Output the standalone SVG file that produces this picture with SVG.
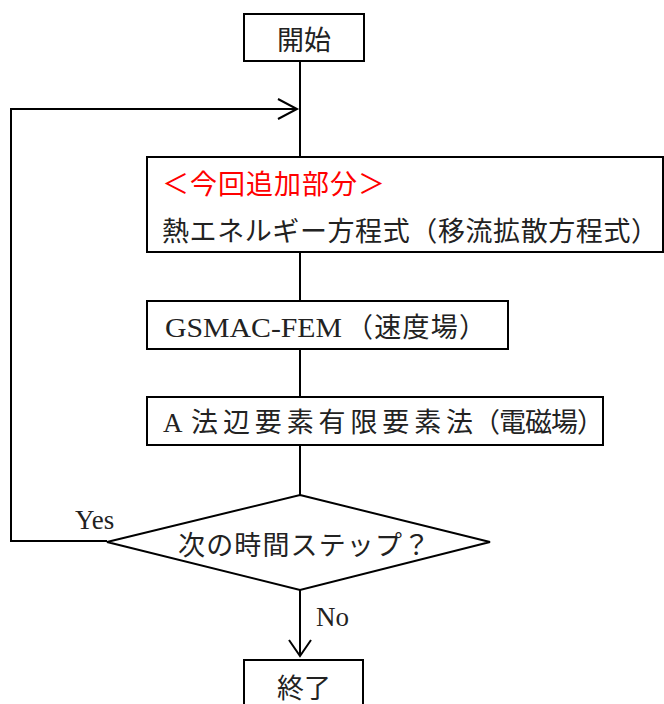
<svg xmlns="http://www.w3.org/2000/svg" width="664" height="704" viewBox="0 0 664 704">
<style>
.box{fill:#fff;stroke:#000;stroke-width:2}
.ln{fill:none;stroke:#000;stroke-width:2}
text{font-family:"Liberation Serif","Noto Sans CJK JP",serif;font-size:27px;fill:#222}
.red{fill:#ff0000}
</style>
<rect width="664" height="704" fill="#fff"/>
<g id="connectors">
<line class="ln" x1="300" y1="61" x2="300" y2="157"/>
<polyline class="ln" points="107,541 11,541 11,109 297,109"/>
<polyline class="ln" points="278,99 297,109 278,119"/>
<line class="ln" x1="300" y1="252" x2="300" y2="301"/>
<line class="ln" x1="300" y1="349" x2="300" y2="397"/>
<line class="ln" x1="300" y1="445" x2="300" y2="495"/>
<line class="ln" x1="300" y1="590" x2="300" y2="656"/>
<polyline class="ln" points="289,640 300,656 311,640"/>
<text x="75" y="529" font-size="26">Yes</text>
<text x="316" y="626" font-size="27">No</text>
</g>
<g id="start">
<rect class="box" x="244" y="14" width="120" height="47"/>
<text x="304" y="50" text-anchor="middle">開始</text>
</g>
<g id="heat">
<rect class="box" x="147" y="157" width="516" height="95"/>
<text class="red" x="162" y="194" textLength="223" lengthAdjust="spacing">＜今回追加部分＞</text>
<text x="162" y="241" textLength="496" lengthAdjust="spacing">熱エネルギー方程式（移流拡散方程式）</text>
</g>
<g id="gsmac">
<rect class="box" x="147" y="301" width="361" height="48"/>
<text x="165" y="337"><tspan font-size="28" textLength="177" lengthAdjust="spacingAndGlyphs">GSMAC-FEM</tspan><tspan x="346" textLength="140" lengthAdjust="spacing">（速度場）</tspan></text>
</g>
<g id="amethod">
<rect class="box" x="147" y="397" width="456" height="48"/>
<text x="163" y="432">A<tspan x="191" textLength="282" lengthAdjust="spacing">法辺要素有限要素法</tspan><tspan x="473" textLength="131" lengthAdjust="spacing">（電磁場）</tspan></text>
</g>
<g id="decision">
<polygon class="box" points="300,495 490,542 300,590 107,542"/>
<text x="178" y="555" textLength="252" lengthAdjust="spacing">次の時間ステップ？</text>
</g>
<g id="end">
<rect class="box" x="244" y="660" width="119" height="60"/>
<text x="304" y="698" text-anchor="middle">終了</text>
</g>
</svg>
